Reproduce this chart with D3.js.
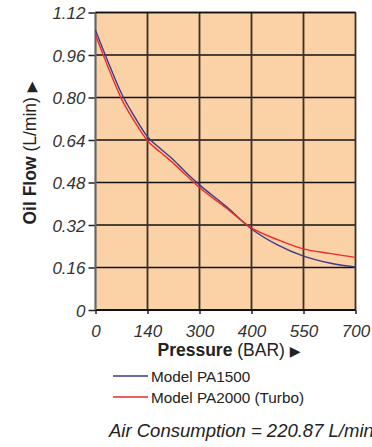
<!DOCTYPE html>
<html>
<head>
<meta charset="utf-8">
<script src="https://cdn.jsdelivr.net/npm/d3@7"></script>
<style>
  body { margin: 0; background: #fff; }
  svg { display: block; font-family: "Liberation Sans", Arial, sans-serif; }
  .tick text { font-style: italic; fill: #333; font-size: 17px; }
</style>
</head>
<body>
<div class="plot"></div>
<script>
// tick labels along the pressure axis (evenly spaced categories)
const pressures = [0, 140, 300, 400, 550, 700]
const flowTicks = [0, 0.16, 0.32, 0.48, 0.64, 0.80, 0.96, 1.12]
// readings taken from the curves (pressure in BAR, flow in L/min)
const samplePressures = [0, 35, 70, 105, 140, 180, 220, 260, 300, 350, 400, 475, 550, 625, 700]
const pa1500 = [1.053, 0.93, 0.815, 0.728, 0.652, 0.607, 0.565, 0.516, 0.471, 0.392, 0.305, 0.245, 0.203, 0.177, 0.162]
const pa2000 = [1.035, 0.91, 0.795, 0.71, 0.637, 0.594, 0.552, 0.506, 0.461, 0.386, 0.309, 0.265, 0.23, 0.213, 0.198]

let margin = {top: 12.5, left: 95.5},
    width = 260,
    height = 297.5

let svg = d3.select(".plot")
  .append("svg")
  .attr("width", 372)
  .attr("height", 447)

let g = svg.append("g")
  .attr("transform", "translate(" + margin.left + "," + margin.top + ")")

// piecewise scale: each category gets an equal slot
let xScale = d3.scaleLinear()
  .domain(pressures)
  .range(pressures.map((d, i) => i * width / (pressures.length - 1)))
let yScale = d3.scaleLinear()
  .domain([0, 1.12])
  .range([height, 0])

// background
g.append("rect")
  .attr("width", width)
  .attr("height", height)
  .attr("fill", "#fbd2a6")

// grid
g.selectAll(".hgrid")
  .data(flowTicks.slice(1))
  .enter().append("line")
  .attr("x1", 0).attr("x2", width)
  .attr("y1", d => yScale(d)).attr("y2", d => yScale(d))
  .attr("stroke", "#111").attr("stroke-width", 1.6)
g.selectAll(".vgrid")
  .data(pressures.slice(1))
  .enter().append("line")
  .attr("x1", d => xScale(d)).attr("x2", d => xScale(d))
  .attr("y1", 0).attr("y2", height)
  .attr("stroke", "#3a3028").attr("stroke-width", 1.8)

// axes
let xAxis = d3.axisBottom(xScale)
  .tickValues(pressures)
  .tickSize(4)
  .tickPadding(7)
  .tickFormat(d3.format("d"))
let yAxis = d3.axisLeft(yScale)
  .tickValues(flowTicks)
  .tickSize(7)
  .tickPadding(3)
  .tickFormat(d => d === 0 ? "0" : d3.format(".2f")(d))

let gx = g.append("g")
  .attr("transform", "translate(0," + height + ")")
  .call(xAxis)
gx.select(".domain").remove()
gx.selectAll(".tick line").attr("stroke", "#222").attr("stroke-width", 1.5)
gx.selectAll(".tick text").attr("dy", "0.95em")

let gy = g.append("g").call(yAxis)
gy.select(".domain").remove()
gy.selectAll(".tick line").attr("stroke", "#222").attr("stroke-width", 1.5)
gy.selectAll(".tick text").attr("dy", "0.36em")

// plot frame
g.append("line").attr("x1", 0).attr("x2", width).attr("y1", height).attr("y2", height)
  .attr("stroke", "#111").attr("stroke-width", 2)
g.append("line").attr("x1", 0).attr("x2", 0).attr("y1", 0).attr("y2", height)
  .attr("stroke", "#666").attr("stroke-width", 2.2)
g.append("line").attr("x1", 0).attr("x2", width).attr("y1", 0).attr("y2", 0)
  .attr("stroke", "#111").attr("stroke-width", 1.6)

// curves
let line = d3.line()
  .x(d => xScale(d[0]))
  .y(d => yScale(d[1]))
  .curve(d3.curveMonotoneX)
let series = [
  {name: "Model PA1500", values: pa1500, color: "#3b3b8e"},
  {name: "Model PA2000 (Turbo)", values: pa2000, color: "#ee2a2a"}
]
series.forEach(function(s){
  g.append("path")
    .datum(samplePressures.map((p, i) => [p, s.values[i]]))
    .attr("fill", "none")
    .attr("stroke", s.color)
    .attr("stroke-width", 1.4)
    .attr("d", line)
})

// axis titles
let xt = svg.append("text")
  .attr("x", 229)
  .attr("y", 356)
  .attr("text-anchor", "middle")
  .attr("font-size", 17.5)
  .attr("fill", "#222")
xt.append("tspan").attr("font-weight", "bold").text("Pressure")
xt.append("tspan").text(" (BAR) ")
xt.append("tspan").attr("font-family", "DejaVu Sans").attr("font-size", 14).text("▶")

let yt = svg.append("text")
  .attr("transform", "translate(36,153) rotate(-90)")
  .attr("text-anchor", "middle")
  .attr("font-size", 17.5)
  .attr("fill", "#222")
yt.append("tspan").attr("font-weight", "bold").text("Oil Flow")
yt.append("tspan").text(" (L/min) ")
yt.append("tspan").attr("font-family", "DejaVu Sans").attr("font-size", 14).text("▶")

// legend
let legend = svg.selectAll(".legend")
  .data(series)
  .enter().append("g")
  .attr("class", "legend")
  .attr("transform", (d, i) => "translate(113," + (376 + i * 21) + ")")
legend.append("line")
  .attr("x1", 0).attr("x2", 35)
  .attr("stroke", d => d.color)
  .attr("stroke-width", 1.3)
legend.append("text")
  .attr("x", 38)
  .attr("y", 5.5)
  .attr("font-size", 15.3)
  .attr("fill", "#222")
  .text(d => d.name)

// footer note, runs past the right edge as in the original
svg.append("text")
  .attr("x", 109)
  .attr("y", 437)
  .attr("font-size", 18.5)
  .attr("font-style", "italic")
  .attr("fill", "#222")
  .text("Air Consumption = 220.87 L/min")
</script>
</body>
</html>
